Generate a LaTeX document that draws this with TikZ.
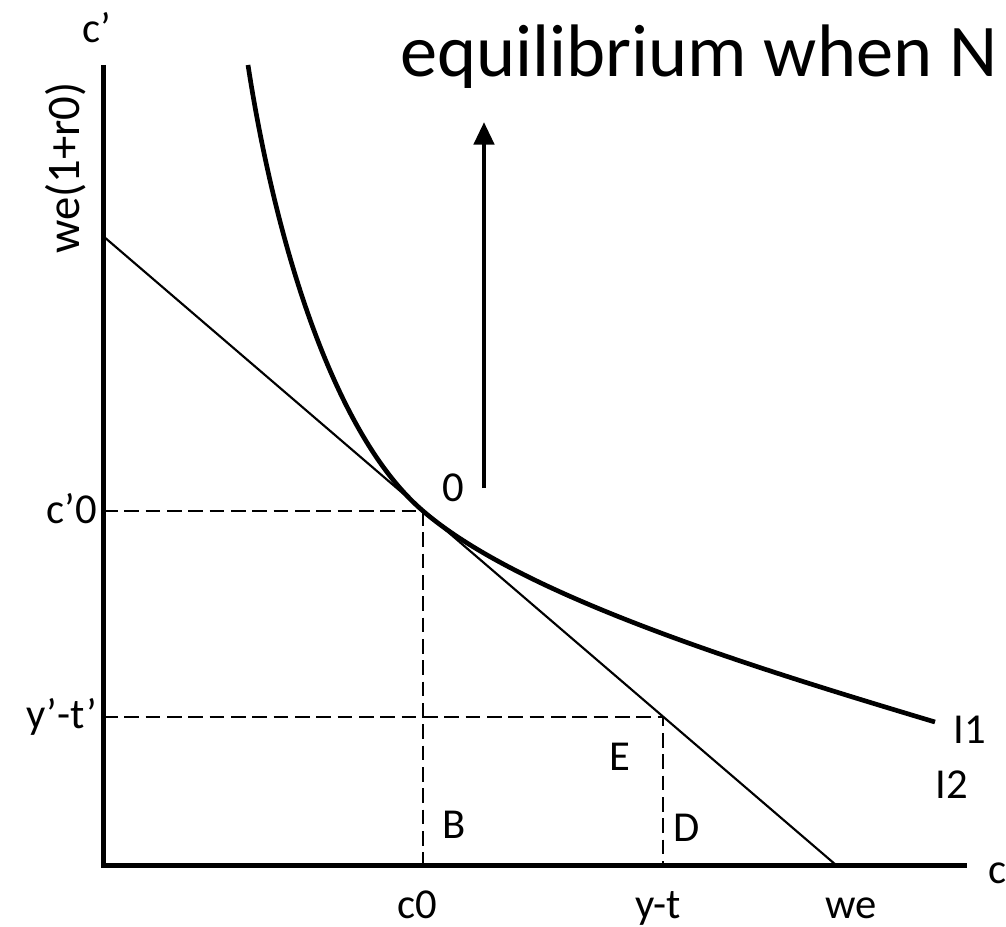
\documentclass[tikz,border=0pt]{standalone}
\usepackage{fontspec}
\setmainfont{Carlito}
\usetikzlibrary{arrows.meta}

\begin{document}
\begin{tikzpicture}[x=0.75pt, y=-0.75pt,
    axis/.style={line width=3.75pt},
    budget/.style={line width=1.6pt},
    guide/.style={line width=1.4pt, dash pattern=on 11pt off 5pt},
    icurve/.style={line width=3.5pt},
    lbl/.style={inner sep=0pt, font=\fontsize{32}{38}\selectfont}]
    % Fix page size to the reference
    \useasboundingbox (0,0) rectangle (1006,927);

    % Define coordinates
    \coordinate (origin) at (103,865);
    \coordinate (yTop) at (103,65);
    \coordinate (xEnd) at (967,865);
    \coordinate (yCut) at (103,236);
    \coordinate (xCut) at (836,865);
    \coordinate (ptO) at (423,511);
    \coordinate (ptE) at (663,717);
    \coordinate (cZeroY) at (103,511);
    \coordinate (cZeroX) at (423,865);
    \coordinate (ytY) at (103,717);
    \coordinate (ytX) at (663,865);
    \coordinate (curveTop) at (248,65);
    \coordinate (curveEnd) at (935,722);
    \coordinate (arrowFoot) at (484,488);
    \coordinate (arrowTip) at (484,122);

    % Draw axes
    \draw[axis] (yTop) -- (origin) -- (xEnd);

    % Draw budget line
    \draw[budget] (yCut) -- (xCut);

    % Draw dashed guides
    \draw[guide] (cZeroY) -- (ptO) -- (cZeroX);
    \draw[guide] (ytY) -- (ptE) -- (ytX);

    % Draw indifference curve
    \draw[icurve] (curveTop) .. controls (275,240) and (333,434) .. (ptO)
        .. controls (523,597) and (755,668) .. (curveEnd);

    % Draw arrow
    \draw[line width=3.5pt, -{Triangle[width=15pt,length=17pt]}] (arrowFoot) -- (arrowTip);

    % Label axes
    \node[lbl] (cPrimeLbl) at (97,28) {c’};
    \node[lbl, rotate=90, font=\fontsize{35}{42}\selectfont] (wealthLbl) at (66,168) {we(1+r0)};
    \node[lbl, anchor=base] (cLbl) at (998,883) {c};
    \node[lbl, anchor=east] (cZeroPrimeLbl) at (97,509) {c’0};
    \node[lbl, anchor=east] (ytPrimeLbl) at (97,717) {y’-t’};
    \node[lbl, anchor=base] (cZeroLbl) at (417,918) {c0};
    \node[lbl, anchor=base] (ytLbl) at (658,918) {y-t};
    \node[lbl, anchor=base] (weLbl) at (851,918) {we};

    % Label points and regions
    \node[lbl] (oLbl) at (453,488) {0};
    \node[lbl, anchor=base] (bLbl) at (454,838) {B};
    \node[lbl, anchor=base] (eLbl) at (620,770) {E};
    \node[lbl, anchor=base] (dLbl) at (687,841) {D};
    \node[lbl, anchor=base] (iOneLbl) at (970,743) {I1};
    \node[lbl, anchor=base] (iTwoLbl) at (952,798) {I2};

    % Title
    \node[anchor=base west, inner sep=0pt, font=\fontsize{55.8}{67}\selectfont] (title) at (400,77) {equilibrium when N};

\end{tikzpicture}
\end{document}
